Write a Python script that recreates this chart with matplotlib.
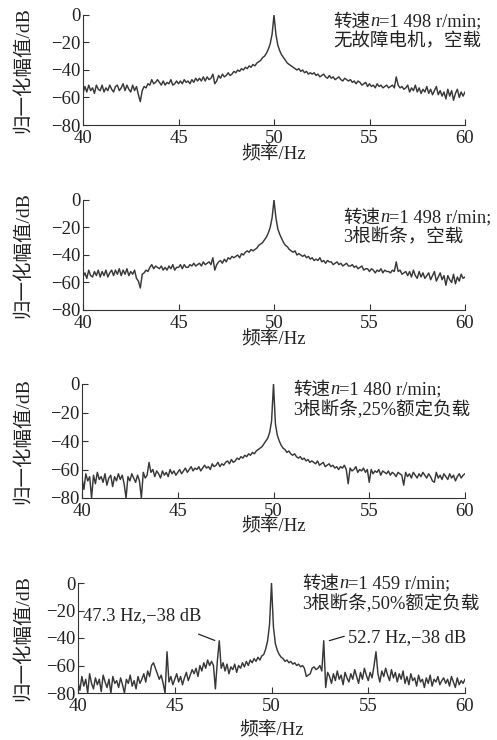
"""Rotor-bar fault spectra: four stacked panels, 40-60 Hz, normalised amplitude in dB."""
import numpy as np
import matplotlib
matplotlib.use("Agg")
import matplotlib.pyplot as plt  # noqa: E402
from matplotlib.offsetbox import TextArea, HPacker, AnnotationBbox  # noqa: E402

plt.rcParams["font.family"] = ["Liberation Serif", "Noto Sans CJK SC"]
FONT = ["Liberation Serif", "Noto Sans CJK SC"]

# 0.1 Hz grid, 40.0 ... 60.0
FREQ = np.round(np.arange(400, 601) / 10.0, 1)

# panel 1: healthy motor, no load
SPEC_HEALTHY = [
    -57, -52, -56, -51, -55, -53, -57, -51, -54, -55,
    -51, -56, -53, -55, -51, -54, -56, -52, -51, -55,
    -53, -50, -55, -51, -54, -56, -51, -55, -52, -58,
    -63, -55, -52, -53, -50, -51, -47, -50, -49, -47,
    -49, -51, -48, -51, -49, -50, -47, -51, -50, -48,
    -50, -48, -50, -47, -49, -48, -50, -47, -49, -46,
    -48, -46, -48, -45, -48, -45, -47, -46, -43, -50,
    -48, -44, -46, -43, -45, -44, -42, -44, -43, -41,
    -42, -40, -41, -39, -40, -38, -39, -37, -38, -36,
    -37, -35, -34, -33, -31, -30, -28, -25, -21, -14,
    0,
    -14, -22, -26, -29, -31, -33, -35, -36, -37,
    -38, -39, -40, -39, -41, -40, -42, -41, -43, -42,
    -43, -42, -44, -43, -45, -44, -43, -45, -46, -44,
    -46, -45, -47, -46, -45, -47, -48, -46, -47, -48,
    -47, -49, -48, -50, -48, -49, -51, -50, -49, -52,
    -50, -52, -51, -53, -50, -52, -51, -53, -52, -51,
    -53, -52, -51, -53, -45, -51, -53, -52, -54, -53,
    -51, -56, -53, -55, -51, -56, -53, -57, -54, -56,
    -52, -57, -54, -58, -55, -52, -58, -55, -59, -56,
    -61, -54, -59, -55, -62, -57, -54, -60, -56, -59,
    -56,
]

# panel 2: 3 broken bars, no load
SPEC_BROKEN_NL = [
    -56, -53, -57, -51, -55, -56, -52, -55, -51, -56,
    -52, -55, -51, -56, -53, -51, -55, -51, -54, -50,
    -55, -51, -54, -50, -55, -52, -54, -51, -57, -59,
    -64, -54, -53, -51, -52, -49, -47, -50, -48, -49,
    -50, -48, -51, -49, -51, -48, -50, -47, -51, -49,
    -49, -47, -50, -47, -49, -49, -47, -48, -46, -48,
    -47, -46, -48, -45, -47, -46, -45, -47, -42, -51,
    -47, -45, -44, -46, -43, -45, -42, -43, -41, -42,
    -41, -40, -42, -39, -40, -38, -37, -38, -36, -37,
    -36, -35, -33, -32, -31, -29, -27, -24, -20, -13,
    0,
    -13, -21, -25, -28, -31, -33, -34, -36, -37,
    -38, -37, -40, -39, -40, -41, -40, -42, -41, -43,
    -42, -44, -43, -44, -42, -45, -44, -46, -44, -45,
    -45, -47, -46, -45, -47, -46, -48, -47, -46, -48,
    -48, -47, -49, -48, -50, -49, -48, -51, -50, -50,
    -52, -50, -51, -53, -51, -52, -50, -53, -51, -52,
    -52, -53, -51, -52, -45, -52, -51, -54, -53, -52,
    -55, -52, -56, -51, -55, -57, -52, -56, -53, -57,
    -55, -53, -58, -55, -52, -59, -56, -53, -58, -55,
    -62, -55, -58, -60, -54, -61, -56, -59, -54, -57,
    -56,
]

# panel 3: 3 broken bars, 25% rated load
SPEC_BROKEN_25 = [
    -66, -74, -63, -68, -65, -80, -64, -70, -62, -67,
    -65, -69, -63, -71, -66, -64, -72, -65, -68, -63,
    -67, -64, -70, -80, -65, -68, -63, -66, -69, -64,
    -68, -80, -62, -66, -64, -55, -62, -60, -65, -61,
    -63, -66, -61, -64, -62, -65, -60, -63, -61, -64,
    -62, -60, -63, -61, -59, -62, -60, -58, -61, -59,
    -60, -58, -61, -59, -57, -59, -58, -60, -56, -58,
    -57, -55, -58, -56, -57, -55, -54, -56, -53, -55,
    -54, -52, -53, -51, -52, -50, -51, -49, -50, -48,
    -49, -47, -46, -45, -44, -42, -40, -38, -34, -26,
    0,
    -28, -36, -40, -43, -45, -46, -48, -47, -49,
    -50, -49, -51, -52, -51, -53, -52, -54, -53, -55,
    -54, -55, -56, -54, -57, -56, -55, -58, -57, -56,
    -58, -57, -59, -58, -60, -58, -59, -57, -60, -70,
    -59, -61, -60, -58, -62, -60, -61, -59, -62, -60,
    -69, -60, -63, -61, -62, -60, -64, -61, -62, -63,
    -61, -64, -62, -63, -65, -62, -63, -64, -71, -62,
    -65, -63, -66, -62, -64, -66, -63, -65, -62, -64,
    -66, -63, -65, -68, -69, -62, -66, -64, -67, -63,
    -65, -67, -63, -66, -64, -68, -65, -63, -66, -64,
    -63,
]

# panel 4: 3 broken bars, 50% rated load (sidebands at 47.3 / 52.7 Hz)
SPEC_BROKEN_50 = [
    -72, -78, -68, -75, -70, -80, -66, -73, -77, -69,
    -74, -70, -79, -67, -72, -76, -70, -80, -68, -73,
    -71, -76, -69, -74, -80, -70, -73, -67, -75, -71,
    -77, -68, -73, -70, -66, -72, -64, -68, -60, -58,
    -62, -66, -70, -67, -73, -80, -50, -72, -68, -74,
    -70, -66, -72, -68, -74, -69, -65, -71, -67, -63,
    -66, -62, -68, -60, -64, -58, -62, -56, -60, -57,
    -60, -77, -57, -42, -62, -58, -64, -59, -66, -61,
    -63, -59, -65, -60, -62, -58, -61, -57, -60, -56,
    -58, -55, -57, -54, -56, -53, -52, -48, -42, -30,
    0,
    -32, -44, -49, -52, -54, -55, -57, -56, -58,
    -57, -59, -58, -60, -59, -61, -60, -62, -68, -67,
    -66, -62, -61, -63, -62, -60, -64, -42, -76, -65,
    -68, -73, -66, -71, -64, -70, -67, -74, -65, -69,
    -72, -66, -70, -63, -68, -73, -65, -70, -62, -67,
    -71, -65, -69, -60, -50, -66, -72, -64, -68, -62,
    -67, -71, -63, -69, -65, -72, -66, -70, -64, -73,
    -68, -74, -66, -71, -69, -75, -67, -72, -70, -76,
    -69, -73, -67, -75, -70, -72, -68, -74, -71, -69,
    -73, -70, -75, -68, -72, -76, -69, -74, -71, -73,
    -70,
]

SPECTRA = [SPEC_HEALTHY, SPEC_BROKEN_NL, SPEC_BROKEN_25, SPEC_BROKEN_50]
SPEEDS = ["1 498", "1 498", "1 480", "1 459"]
CONDITIONS = ["无故障电机，空载", "3根断条，空载", "3根断条,25%额定负载", "3根断条,50%额定负载"]

W, H = 497, 740
# axes boxes in pixels: left, top, right, bottom
BOXES = [(83, 15, 465, 125), (83, 200, 465, 310), (82, 384, 465, 498), (78, 583, 465, 693)]
# info text: left x, first-line centre y (pixels from top)
INFO_POS = [(333, 22), (343, 218), (293, 390), (302, 584)]
XLABEL_Y = [-0.19, -0.19, -0.18, -0.265]

fig = plt.figure(figsize=(W / 100, H / 100), dpi=100)

for i, spec in enumerate(SPECTRA):
    l, t, r, b = BOXES[i]
    ax = fig.add_axes([l / W, 1 - b / H, (r - l) / W, (b - t) / H])
    assert len(spec) == len(FREQ)
    ax.plot(FREQ, spec, color="#383838", lw=1.05)
    ax.set_xlim(40, 60)
    ax.set_ylim(-80, 0)
    ax.set_xticks([40, 45, 50, 55, 60])
    ax.set_yticks([0, -20, -40, -60, -80])
    for s in ("top", "right"):
        ax.spines[s].set_visible(False)
    ax.spines["left"].set_color("#333333")
    ax.spines["bottom"].set_color("#333333")
    ax.tick_params(direction="in", length=4, width=0.8, labelsize=13.5, pad=2,
                   colors="#333333", labelcolor="#222222")
    ax.tick_params(axis="x", pad=3.5)
    ax.set_xlabel("频率/Hz", fontsize=13.5, color="#222222")
    ax.set_ylabel("归一化幅值/dB", fontsize=14, color="#222222")
    ax.xaxis.set_label_coords(0.5, XLABEL_Y[i])
    ax.yaxis.set_label_coords(-(l - 32) / (r - l), 0.5)

    x0, y0 = INFO_POS[i]
    tp = dict(fontsize=13.3, color="#222222", family=FONT)
    line1 = HPacker(children=[TextArea("转速", textprops=tp),
                              TextArea("n", textprops=dict(tp, style="italic")),
                              TextArea(f"={SPEEDS[i]} r/min;", textprops=tp)],
                    align="baseline", pad=0, sep=0)
    fig.add_artist(AnnotationBbox(line1, (x0, H - y0), xycoords="figure pixels",
                                  box_alignment=(0, 0.5), frameon=False, pad=0))
    fig.text(x0 / W, 1 - (y0 + 20) / H, CONDITIONS[i], fontsize=13.3,
             color="#222222", va="center", ha="left")

    if i == 3:
        ax.annotate("", xy=(47.2, -42.5), xytext=(46.1, -36.5),
                    arrowprops=dict(arrowstyle="-", color="#222222", lw=0.9))
        ax.text(40.25, -23.5, "47.3 Hz,\u221238 dB", fontsize=13.3,
                color="#222222", va="center", ha="left")
        ax.annotate("", xy=(52.85, -42.5), xytext=(53.9, -38.2),
                    arrowprops=dict(arrowstyle="-", color="#222222", lw=0.9))
        ax.text(53.95, -39.5, "52.7 Hz,\u221238 dB", fontsize=13.3,
                color="#222222", va="center", ha="left")

fig.savefig("out.png", dpi=100)
